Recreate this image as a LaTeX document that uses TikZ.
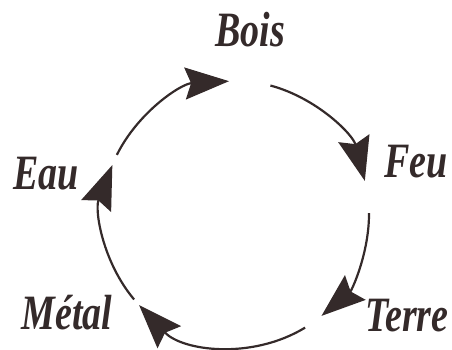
\documentclass[tikz,border=0pt]{standalone}
\usepackage{fontspec}
\setmainfont{Liberation Serif}
\usetikzlibrary{arrows.meta}
\definecolor{ink}{RGB}{52,42,42}
\begin{document}
\begin{tikzpicture}[x=1pt,y=1pt,
  arr/.style={draw=ink,line width=2.2pt,-{Stealth[length=44pt,width=32pt,inset=6pt]}},
  lbl/.style={text=ink,anchor=base,inner sep=0pt,font=\fontsize{38}{40}\selectfont\bfseries\itshape}]
\useasboundingbox (0,0) rectangle (452,350);
\coordinate (c) at (236,136);
\def\R{133}
\node[lbl] (bois) at (250,303) {\scalebox{1}[1.3]{Bois}};
\node[lbl] (feu) at (416,172) {\scalebox{1}[1.3]{Feu}};
\node[lbl] (terre) at (407,18) {\scalebox{1}[1.3]{Terre}};
\node[lbl] (metal) at (67,20) {\scalebox{1}[1.3]{Métal}};
\node[lbl] (eau) at (46,160) {\scalebox{1}[1.3]{Eau}};
\path (c) ++(153.6:\R) coordinate (s1);
\path (c) ++(75:\R) coordinate (s2);
\path (c) ++(0.4:\R) coordinate (s3);
\path (c) ++(-58.7:\R) coordinate (s4);
\path (c) ++(-140:\R) coordinate (s5);
\draw[arr] (s1) arc[start angle=153.6, end angle=93, radius=\R];
\draw[arr] (s2) arc[start angle=75, end angle=14.4, radius=\R];
\draw[arr] (s3) arc[start angle=0.4, end angle=-50, radius=\R];
\draw[arr] (s4) arc[start angle=-58.7, end angle=-136.8, radius=\R];
\draw[arr] (s5) arc[start angle=-140, end angle=-201.6, radius=\R];
\end{tikzpicture}
\end{document}
